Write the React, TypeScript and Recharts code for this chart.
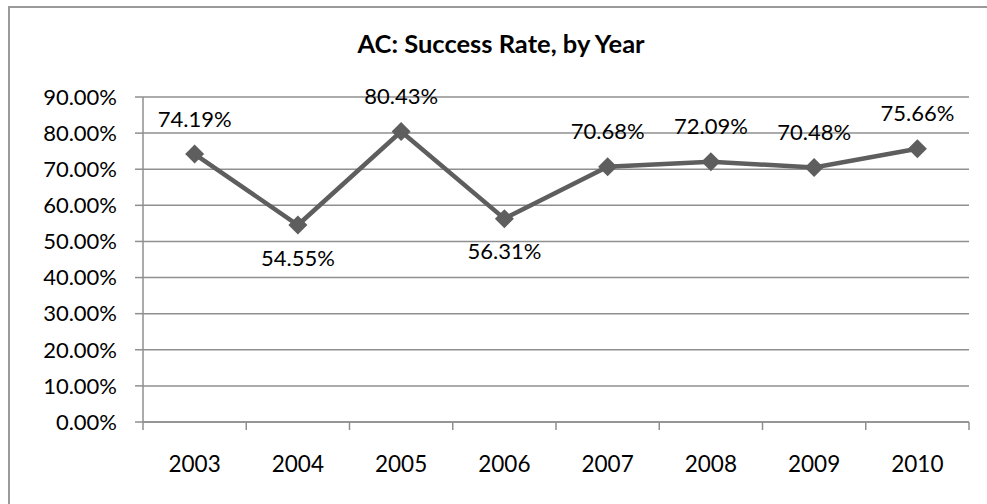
import React from 'react';
import { LineChart, Line, XAxis, YAxis, CartesianGrid, LabelList } from 'recharts';

// chart values
const years = ['2003', '2004', '2005', '2006', '2007', '2008', '2009', '2010'];
const successRates = [74.19, 54.55, 80.43, 56.31, 70.68, 72.09, 70.48, 75.66];
const yTicks = [0, 10, 20, 30, 40, 50, 60, 70, 80, 90];

const data = years.map((year, i) => ({ year, rate: successRates[i] }));

const W = 987;
const H = 504;
const M = { top: 97, right: 18, bottom: 22, left: 0 };
const Y_AXIS_W = 143;
const X_AXIS_H = 60;
const BAND = (W - M.left - Y_AXIS_W - M.right) / years.length;

const GRID = '#8f8f8f';
const LINE = '#5e5e5e';
const FONT = 'Lato, "Open Sans", sans-serif';

const pct = (v: number) => `${v.toFixed(2)}%`;

// category labels sit between tick marks, like the spreadsheet original
const XTick = (props: any) => {
  const { x, y, payload, index } = props;
  const last = index === years.length - 1;
  return (
    <g>
      <line x1={x - BAND / 2} x2={x - BAND / 2} y1={y} y2={y + 8} stroke={GRID} strokeWidth={1.5} />
      {last && <line x1={x + BAND / 2} x2={x + BAND / 2} y1={y} y2={y + 8} stroke={GRID} strokeWidth={1.5} />}
      <text x={x} y={y + 41} textAnchor="middle" dominantBaseline="central" fontSize={22.5} fontFamily={FONT} fill="#000">
        {payload.value}
      </text>
    </g>
  );
};

const Diamond = (props: any) => {
  const { cx, cy } = props;
  if (cx == null || cy == null) return null;
  const r = 9.5;
  return <polygon points={`${cx},${cy - r} ${cx + r},${cy} ${cx},${cy + r} ${cx - r},${cy}`} fill={LINE} />;
};

const RateLabel = (props: any) => {
  const { x, y, value } = props;
  const below = value < 60;
  return (
    <text x={x} y={below ? y + 32 : y - 36} textAnchor="middle" dominantBaseline="central" fontSize={22} fontFamily={FONT} fill="#000">
      {pct(value)}
    </text>
  );
};

export default function App() {
  return (
    <div style={{ position: 'absolute', left: 0, top: 0, width: W, height: H, overflow: 'hidden', background: '#fff' }}>
      <div style={{ position: 'absolute', left: 8, top: 6, width: 1000, height: 520, borderLeft: '2px solid #9a9a9a', borderTop: '2px solid #9a9a9a' }} />
      <div style={{ position: 'absolute', left: 9, width: 984, top: 28, textAlign: 'center', fontFamily: FONT, fontWeight: 700, fontSize: 25.5, color: '#000' }}>
        AC: Success Rate, by Year
      </div>
      <div style={{ position: 'absolute', left: 0, top: 0 }}>
        <LineChart width={W} height={H} data={data} margin={M}>
          <CartesianGrid vertical={false} stroke={GRID} strokeWidth={1.5} />
          <XAxis
            dataKey="year"
            scale="band"
            height={X_AXIS_H}
            axisLine={{ stroke: GRID, strokeWidth: 1.5 }}
            tickLine={false}
            tickSize={0}
            tickMargin={0}
            tick={<XTick />}
            interval={0}
          />
          <YAxis
            width={Y_AXIS_W}
            domain={[0, 90]}
            ticks={yTicks}
            interval={0}
            tickFormatter={pct}
            axisLine={{ stroke: GRID, strokeWidth: 1.5 }}
            tickLine={{ stroke: GRID, strokeWidth: 1.5 }}
            tickSize={8}
            tickMargin={18}
            tick={{ fontSize: 22, fontFamily: FONT, fill: '#000' }}
          />
          <Line
            type="linear"
            dataKey="rate"
            stroke={LINE}
            strokeWidth={4.5}
            dot={<Diamond />}
            activeDot={false}
            isAnimationActive={false}
          >
            <LabelList dataKey="rate" content={<RateLabel />} />
          </Line>
        </LineChart>
      </div>
    </div>
  );
}
